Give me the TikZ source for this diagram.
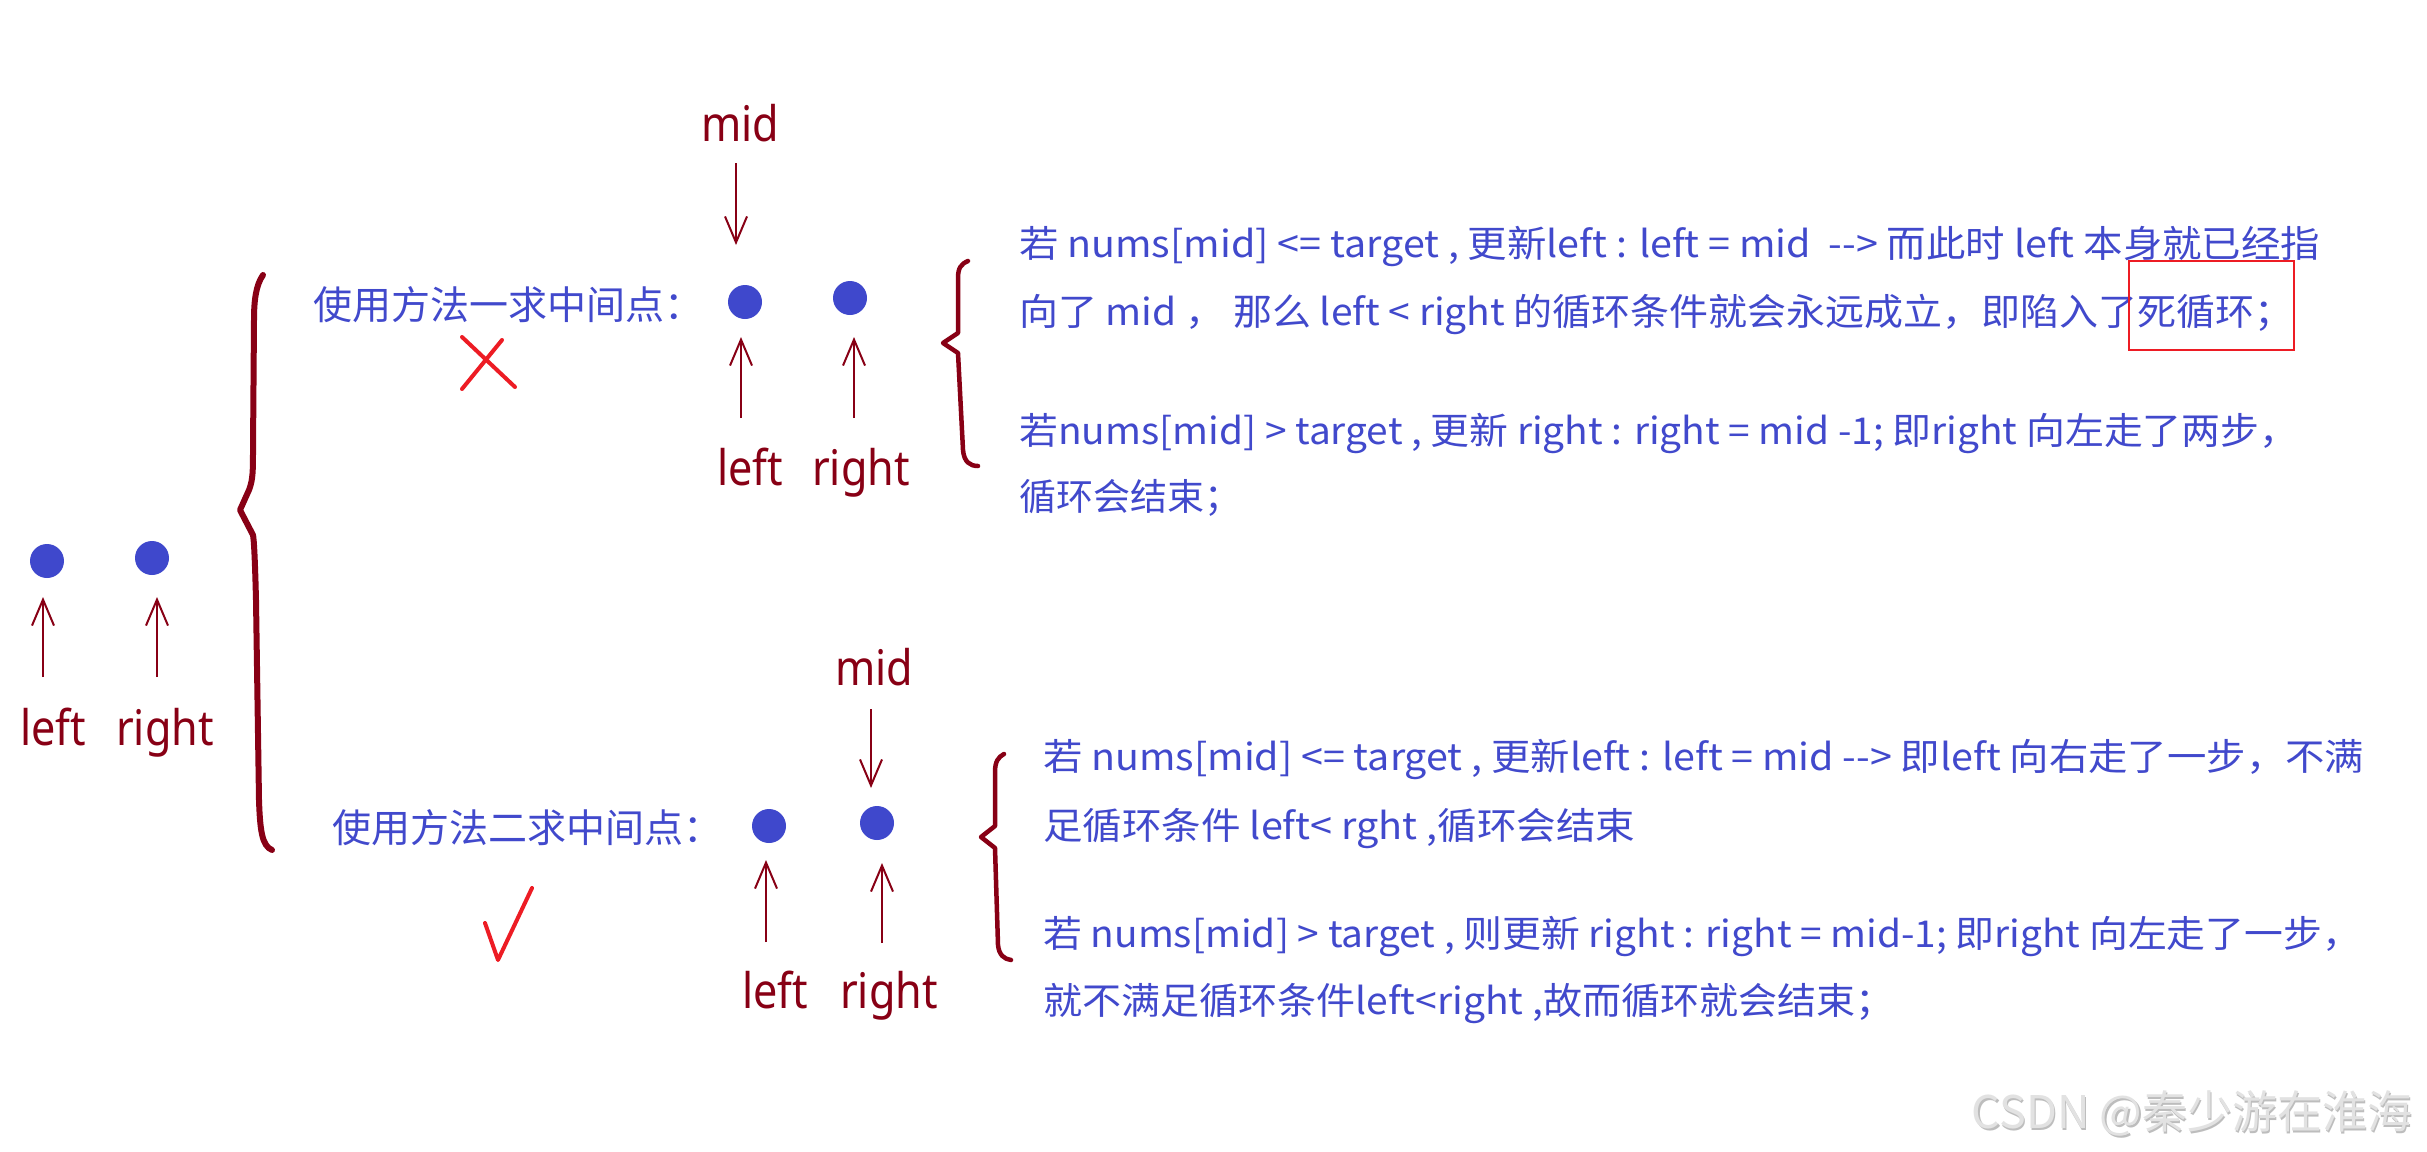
\documentclass[tikz,border=0pt]{standalone}
\usepackage{fontspec}
\usepackage{graphicx}
\usetikzlibrary{arrows.meta}
\newfontfamily\cjkfont{Noto Sans CJK SC}
\newfontfamily\labfont[FakeStretch=0.88]{Noto Sans}
\definecolor{dred}{HTML}{880015}
\definecolor{dblue}{HTML}{3F48CC}
\definecolor{tblue}{HTML}{4149CC}
\definecolor{pred}{HTML}{ED1C24}
\definecolor{wmgray}{HTML}{E2E2E2}
\definecolor{wmshadow}{HTML}{BDBDBD}
\newcommand{\fitw}[2]{\resizebox{#1pt}{\height}{#2}}
\begin{document}
\begin{tikzpicture}[x=1pt,y=-1pt,
  dotnode/.style={circle,fill=dblue,inner sep=0pt,minimum size=34pt},
  ptr/.style={draw=dred,line width=2pt,-{Straight Barb[length=26pt,width=22pt,line width=2pt]}},
  lab/.style={text=dred,font=\labfont\fontsize{49pt}{56pt}\selectfont,inner sep=0pt,anchor=base},
  head/.style={text=tblue,font=\cjkfont\fontsize{39pt}{46pt}\selectfont,inner sep=0pt,anchor=base west},
  desc/.style={text=tblue,font=\cjkfont\fontsize{37pt}{44pt}\selectfont,inner sep=0pt,anchor=base west},
  bracebig/.style={draw=dred,line width=6pt,line cap=round,line join=round},
  bracesmall/.style={draw=dred,line width=4.5pt,line cap=round,line join=round},
  redmark/.style={draw=pred,line width=4pt,line cap=round,line join=round}]
\useasboundingbox[fill=white] (0,0) rectangle (2427,1151);

% ---------- left group ----------
\node[dotnode] (d0l) at (47,561) {};
\node[dotnode] (d0r) at (152,558) {};
\coordinate (t0l) at (43,677); \coordinate (h0l) at (43,597);
\coordinate (t0r) at (157,677); \coordinate (h0r) at (157,597);
\draw[ptr] (t0l) -- (h0l);
\draw[ptr] (t0r) -- (h0r);
\node[lab] (l0l) at (53,745) {left};
\node[lab] (l0r) at (165,745) {right};

% ---------- big brace ----------
\draw[bracebig] (272,850) .. controls (262,846) and (260,830) .. (259,800)
  -- (256,600) .. controls (255,560) and (254,540) .. (253,535)
  -- (240,510) -- (249,490) .. controls (253,480) and (253,470) .. (253,450)
  -- (254,320) .. controls (254,300) and (256,285) .. (263,275);

% ---------- method 1 ----------
\node[head] (h1) at (313,319) {使用方法一求中间点：};
\draw[redmark] (462,337) -- (515,387);
\draw[redmark] (502,340) -- (462,389);

\node[lab] (m1) at (740,141) {mid};
\coordinate (mt1) at (736,163); \coordinate (mh1) at (736,245);
\draw[ptr] (mt1) -- (mh1);
\node[dotnode] (d1l) at (745,302) {};
\node[dotnode] (d1r) at (850,298) {};
\coordinate (t1l) at (741,418); \coordinate (h1l) at (741,337);
\coordinate (t1r) at (854,418); \coordinate (h1r) at (854,337);
\draw[ptr] (t1l) -- (h1l);
\draw[ptr] (t1r) -- (h1r);
\node[lab] (l1l) at (750,485) {left};
\node[lab] (l1r) at (861,485) {right};

\draw[bracesmall] (968,261) .. controls (961,264) and (958,268) .. (958,278)
  -- (958,333) -- (943,343) -- (958,353)
  -- (963,450) .. controls (964,462) and (970,466) .. (978,466);

\node[desc] (s1a) at (1019,257) {\fitw{1301}{若 nums[mid] <= target , 更新left : left = mid \ -{}-{}> 而此时 left 本身就已经指}};
\node[desc] (s1b) at (1019,325) {\fitw{1274}{向了 mid ， 那么 left < right 的循环条件就会永远成立，即陷入了死循环；}};
\node[desc] (s1c) at (1019,444) {\fitw{1279}{若nums[mid] > target , 更新 right : right = mid -1; 即right 向左走了两步，}};
\node[desc] (s1d) at (1019,510) {循环会结束；};
\draw[draw=pred,line width=2pt] (2129,261) rectangle (2294,350);

% ---------- method 2 ----------
\node[head] (h2) at (332,842) {使用方法二求中间点：};
\draw[redmark] (485,923) -- (498,960) -- (532,888);

\node[lab] (m2) at (874,685) {mid};
\coordinate (mt2) at (871,709); \coordinate (mh2) at (871,788);
\draw[ptr] (mt2) -- (mh2);
\node[dotnode] (d2l) at (769,826) {};
\node[dotnode] (d2r) at (877,823) {};
\coordinate (t2l) at (766,942); \coordinate (h2l) at (766,860);
\coordinate (t2r) at (882,943); \coordinate (h2r) at (882,863);
\draw[ptr] (t2l) -- (h2l);
\draw[ptr] (t2r) -- (h2r);
\node[lab] (l2l) at (775,1008) {left};
\node[lab] (l2r) at (889,1008) {right};

\draw[bracesmall] (1004,754) .. controls (998,757) and (995,762) .. (995,772)
  -- (995,826) -- (981,837) -- (995,848)
  -- (998,945) .. controls (999,955) and (1004,959) .. (1011,960);

\node[desc] (s2a) at (1043,770) {\fitw{1321}{若 nums[mid] <= target , 更新left : left = mid -{}-{}> 即left 向右走了一步，不满}};
\node[desc] (s2b) at (1043,839) {\fitw{592}{足循环条件 left< rght ,循环会结束}};
\node[desc] (s2c) at (1043,947) {\fitw{1318}{若 nums[mid] > target , 则更新 right : right = mid-1; 即right 向左走了一步，}};
\node[desc] (s2d) at (1043,1014) {\fitw{851}{就不满足循环条件left<right ,故而循环就会结束；}};

% ---------- watermark ----------
\node[text=wmshadow,font=\cjkfont\fontsize{45pt}{52pt}\selectfont,inner sep=0pt,anchor=base east] (wms) at (2414,1130) {CSDN @秦少游在淮海};
\node[text=wmgray,font=\cjkfont\fontsize{45pt}{52pt}\selectfont,inner sep=0pt,anchor=base east] (wm) at (2412.5,1128.5) {CSDN @秦少游在淮海};
\end{tikzpicture}
\end{document}
